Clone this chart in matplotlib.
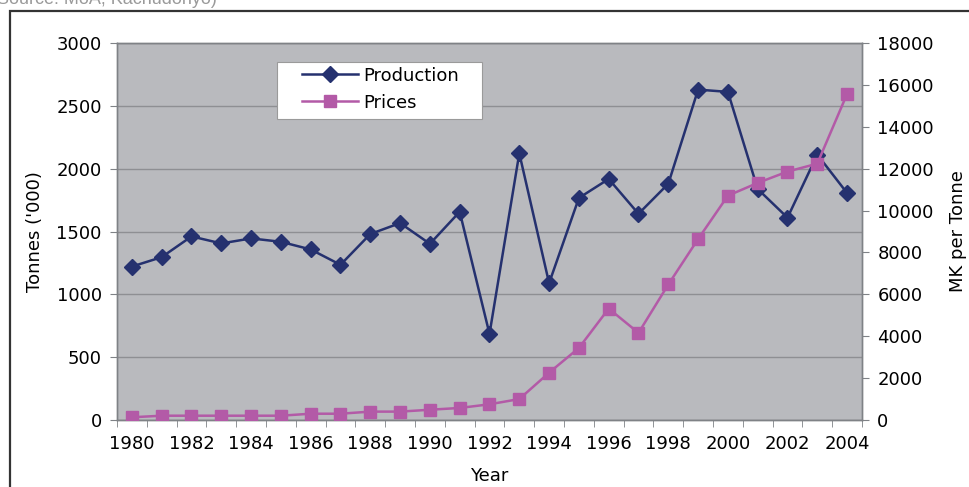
import matplotlib.pyplot as plt
from matplotlib.patches import Rectangle
from matplotlib.ticker import MultipleLocator

plt.rcParams['font.family'] = ['DejaVu Sans']

years = list(range(1980, 2005))
production = [1221, 1296, 1461, 1405, 1445, 1418, 1357, 1235, 1480, 1567,
              1402, 1657, 685, 2122, 1089, 1767, 1918, 1641, 1880, 2629,
              2611, 1838, 1610, 2112, 1806]
prices = [130, 205, 205, 205, 205, 205, 300, 300, 400, 400,
          490, 575, 750, 1000, 2260, 3440, 5320, 4160, 6470, 8640,
          10710, 11320, 11860, 12240, 15570]
year_labels = list(range(1980, 2005, 2))

navy = '#25316f'
pink = '#b35aa7'
grey = '#7f8286'
fs = 13

fig = plt.figure(figsize=(9.69, 4.87), dpi=100)
W, H = 969, 487

# outer frame (cropped on the right and bottom in the original)
fig.add_artist(Rectangle((10 / W, -0.1), 1.2, 1 - 11 / H + 0.1,
                         transform=fig.transFigure, fill=False,
                         edgecolor='#333333', lw=1.6))
fig.text(-0.003, 1 - 4 / H, 'Source: MoA, Kachudonyo)', color='#9a9a9a',
         fontsize=13, va='baseline', ha='left', family='Liberation Sans')

ax = fig.add_axes([117 / W, (H - 420) / H, 745 / W, 377 / H])
ax.set_facecolor('#b9babe')
ax2 = ax.twinx()

ax.plot(years, production, color=navy, lw=1.8, marker='D', markersize=8.5,
        label='Production', zorder=3)
ax2.plot(years, prices, color=pink, lw=1.8, marker='s', markersize=8,
         label='Prices', zorder=3)

ax.set_xlim(1979.5, 2004.5)
ax.set_ylim(0, 3000)
ax2.set_ylim(0, 18000)
ax.yaxis.set_major_locator(MultipleLocator(500))
ax2.yaxis.set_major_locator(MultipleLocator(2000))
ax.set_xticks(year_labels)
ax.set_xticks([y + 0.5 for y in range(1979, 2005)], minor=True)
ax.tick_params(axis='x', which='major', length=0, pad=11, labelsize=fs)
ax.tick_params(axis='x', which='minor', length=5, color=grey, direction='out')
ax.tick_params(axis='y', length=5, color=grey, pad=6, labelsize=fs)
ax2.tick_params(axis='y', length=5, color=grey, pad=6, labelsize=fs)

ax.grid(axis='y', color='#8e8f93', lw=1)
ax.set_axisbelow(True)
for a in (ax, ax2):
    for s in a.spines.values():
        s.set_color(grey)
        s.set_linewidth(1)

ax.set_xlabel('Year', fontsize=fs, labelpad=10)
ax.set_ylabel("Tonnes ('000)", fontsize=fs, labelpad=9)
ax2.set_ylabel('MK per Tonne', fontsize=fs, labelpad=11)

# legend: white box with wide left margin, as in the original
ax2.add_patch(Rectangle((0.2148, 0.798), 0.275, 0.151, transform=ax2.transAxes,
                        facecolor='white', edgecolor='#9a9a9a', lw=0.8,
                        zorder=4))
h1, l1 = ax.get_legend_handles_labels()
h2, l2 = ax2.get_legend_handles_labels()
leg = ax2.legend(h1 + h2, l1 + l2, loc='upper left',
                 bbox_to_anchor=(0.248, 0.937), fontsize=fs, frameon=False,
                 handlelength=3.1, borderpad=0, labelspacing=0.5,
                 handletextpad=0.3, borderaxespad=0)
leg.set_zorder(5)

fig.savefig('out.png', dpi=100)
